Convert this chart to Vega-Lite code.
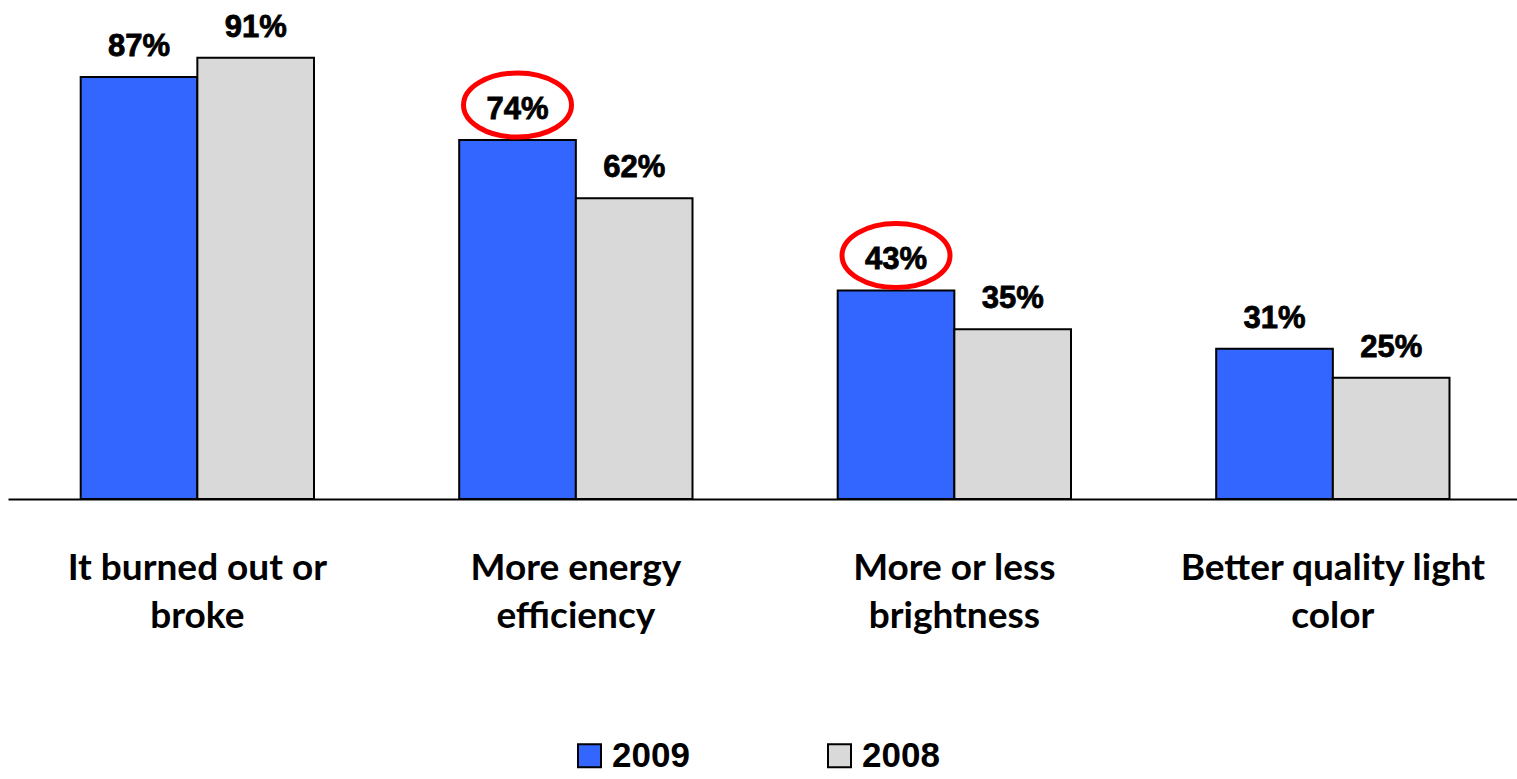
{
  "$schema": "https://vega.github.io/schema/vega-lite/v6.json",
  "width": 1509,
  "height": 485,
  "autosize": {"type": "none"},
  "padding": {"left": 8, "top": 14, "right": 0, "bottom": 280},
  "background": "white",
  "config": {"view": {"stroke": null}},
  "data": {
    "values": [
      {"cause": "It burned out or broke", "year": "2009", "pct": 0.87, "circled": false},
      {"cause": "It burned out or broke", "year": "2008", "pct": 0.91, "circled": false},
      {"cause": "More energy efficiency", "year": "2009", "pct": 0.74, "circled": true},
      {"cause": "More energy efficiency", "year": "2008", "pct": 0.62, "circled": false},
      {"cause": "More or less brightness", "year": "2009", "pct": 0.43, "circled": true},
      {"cause": "More or less brightness", "year": "2008", "pct": 0.35, "circled": false},
      {"cause": "Better quality light color", "year": "2009", "pct": 0.31, "circled": false},
      {"cause": "Better quality light color", "year": "2008", "pct": 0.25, "circled": false}
    ]
  },
  "encoding": {
    "x": {
      "field": "cause",
      "type": "nominal",
      "sort": null,
      "title": null,
      "scale": {"paddingInner": 0.3836, "paddingOuter": 0.1852, "align": 0.5185},
      "axis": {
        "labelExpr": "[slice(datum.label, 0, lastindexof(datum.label, ' ')), slice(datum.label, lastindexof(datum.label, ' ') + 1)]",
        "labelAngle": 0,
        "labelFont": "Lato",
        "labelFontSize": 37,
        "labelFontWeight": "bold",
        "labelColor": "black",
        "labelBaseline": "alphabetic",
        "labelLineHeight": 48,
        "labelPadding": 80,
        "labelLimit": 0,
        "ticks": false,
        "domainColor": "black",
        "domainWidth": 2,
        "grid": false
      }
    },
    "xOffset": {
      "field": "year",
      "type": "nominal",
      "sort": ["2009", "2008"],
      "scale": {"paddingInner": 0, "paddingOuter": 0}
    },
    "y": {
      "field": "pct",
      "type": "quantitative",
      "scale": {"domain": [0, 1]},
      "axis": null
    }
  },
  "layer": [
    {
      "mark": {"type": "bar", "stroke": "black", "strokeWidth": 2},
      "encoding": {
        "color": {
          "field": "year",
          "type": "nominal",
          "scale": {"domain": ["2009", "2008"], "range": ["#3366FF", "#D9D9D9"]},
          "legend": {
            "title": null,
            "orient": "none",
            "legendX": 564,
            "legendY": 724,
            "direction": "horizontal",
            "symbolType": "square",
            "symbolSize": 529,
            "symbolStrokeColor": "black",
            "symbolStrokeWidth": 2,
            "symbolOpacity": 1,
            "labelFont": "Liberation Sans",
            "labelFontSize": 35,
            "labelFontWeight": "bold",
            "labelColor": "black",
            "labelOffset": 5,
            "labelLimit": 0,
            "columnPadding": 132
          }
        }
      }
    },
    {
      "mark": {
        "type": "text",
        "baseline": "alphabetic",
        "align": "center",
        "dy": -21,
        "font": "Liberation Sans",
        "fontSize": 31,
        "fontWeight": "bold",
        "fill": "black",
        "stroke": "black",
        "strokeWidth": 0.8
      },
      "encoding": {
        "text": {"field": "pct", "type": "quantitative", "format": ".0%"}
      }
    },
    {
      "transform": [{"filter": "datum.circled"}],
      "mark": {
        "type": "point",
        "shape": "M1,0 C1,0.3275 0.5523,0.593 0,0.593 C-0.5523,0.593 -1,0.3275 -1,0 C-1,-0.3275 -0.5523,-0.593 0,-0.593 C0.5523,-0.593 1,-0.3275 1,0 Z",
        "size": 11664,
        "filled": false,
        "stroke": "#FF0000",
        "strokeWidth": 5,
        "opacity": 1,
        "yOffset": -35
      },
      "encoding": {}
    }
  ]
}
